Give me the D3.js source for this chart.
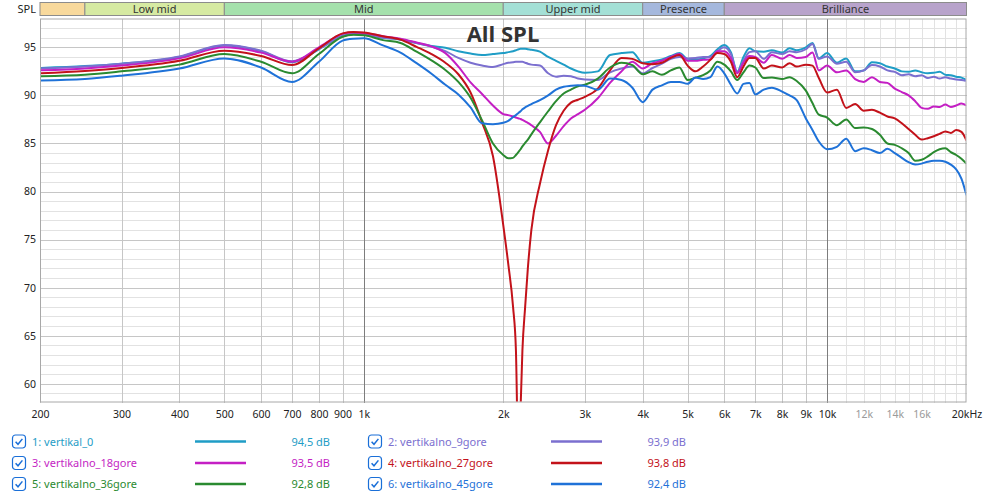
<!DOCTYPE html>
<html lang="en">
<head>
  <meta charset="UTF-8">
  <title>All SPL</title>
  <script src="https://d3js.org/d3.v7.min.js"></script>
  <style>
    body { margin: 0; background: #fff; }
    svg { display: block; font-family: "Noto Sans", sans-serif; }
  </style>
</head>
<body>
  <div id="chart"></div>

  <script>
    // frequency grid (Hz), shared by all six measurements
    const freqs = [
      200, 250, 300, 400, 500, 600, 700, 800, 900, 950,
      1000, 1100, 1200, 1300, 1400, 1500, 1600, 1700, 1800, 1900,
      2000, 2050, 2100, 2130, 2160, 2180, 2200, 2230, 2260, 2300,
      2400, 2500, 2600, 2700, 2800, 2900, 3000, 3200, 3400, 3600,
      3800, 4000, 4200, 4400, 4600, 4800, 5000, 5200, 5400, 5600,
      5800, 6000, 6200, 6400, 6600, 6800, 7000, 7300, 7600, 8000,
      8300, 8600, 9000, 9300, 9600, 10000, 10500, 11000, 11500, 12000,
      12500, 13000, 13500, 14000, 14500, 15000, 15500, 16000, 16500, 17000,
      17500, 18000, 18500, 19000, 19500, 20000
    ];

    const vertikal_0 = [
      92.85, 93.05, 93.3, 94.0, 95.2, 94.6, 93.45, 94.8, 96.2, 96.4,
      96.35, 96.0, 95.8, 95.45, 95.15, 94.95, 94.6, 94.35, 94.2, 94.3,
      94.4, 94.5, 94.6, 94.7, 94.8, 94.85, 94.85, 94.85, 94.8, 94.75,
      94.55, 94.0, 93.6, 93.2, 92.8, 92.5, 92.35, 92.5, 94.2, 94.4,
      94.5, 93.4, 93.55, 93.75, 94.1, 94.4, 93.8, 93.75, 93.85, 94.1,
      94.8, 95.25, 94.5, 92.45, 94.0, 94.9, 94.6, 94.55, 94.7, 94.45,
      94.9, 94.7, 95.0, 95.45, 93.85, 94.4, 93.4, 93.85, 92.5, 92.6,
      93.45, 93.35, 93.0, 92.8, 92.5, 92.45, 92.6, 92.4, 92.3, 92.35,
      92.45, 92.15, 92.1, 91.95, 91.85, 91.6
    ];

    const vertikalno_9gore = [
      92.8, 93.0, 93.3, 94.05, 95.25, 94.65, 93.55, 94.85, 96.15, 96.35,
      96.3, 96.0, 95.85, 95.45, 95.05, 94.6, 93.9, 93.4, 93.1, 92.95,
      93.25, 93.4, 93.45, 93.5, 93.5, 93.5, 93.5, 93.4, 93.3, 93.2,
      93.1, 92.3, 91.95, 92.05, 92.0, 91.75, 91.65, 91.6, 92.4, 92.8,
      93.0, 92.3, 92.85, 93.3, 93.8, 94.0, 93.85, 93.9, 94.0, 94.0,
      94.6, 95.0, 94.3, 92.45, 93.6, 94.5, 94.6, 93.8, 94.5, 94.3,
      94.6, 94.5, 94.8, 95.35, 93.8, 94.05, 93.3, 93.5, 92.4, 92.6,
      93.15, 93.0, 92.6, 92.45, 92.1, 92.2, 92.0, 92.1, 91.8, 91.95,
      91.75, 91.9, 91.75, 91.65, 91.6, 91.5
    ];

    const vertikalno_18gore = [
      92.6, 92.8, 93.1, 93.85, 95.0, 94.45, 93.5, 95.0, 96.4, 96.55,
      96.5, 96.15, 95.9, 95.5, 95.1, 94.4, 93.0, 91.35, 90.15, 88.95,
      88.05, 87.95, 87.8, 87.7, 87.6, 87.55, 87.45, 87.3, 87.15, 86.9,
      86.2, 85.0, 85.8, 86.8, 87.6, 88.05, 88.5, 89.7, 91.3, 92.5,
      93.5, 92.8, 93.35, 93.6, 94.0, 94.3, 93.6, 93.6, 93.7, 93.75,
      94.6, 94.6, 93.9, 92.3, 93.4, 94.1, 94.0, 93.4, 94.2, 93.8,
      94.2, 93.9, 94.0, 94.45, 92.6, 93.1, 92.4, 92.6, 91.7, 91.4,
      91.9, 91.4, 91.3, 90.7, 90.35, 90.0, 89.4, 88.7, 88.6, 88.85,
      88.8, 89.05, 88.8, 88.95, 89.15, 88.95
    ];

    const vertikalno_27gore = [
      92.3, 92.55, 92.85, 93.6, 94.65, 94.1, 93.15, 94.9, 96.45, 96.6,
      96.55, 96.15, 95.8, 95.05, 94.3, 93.4, 92.2, 90.3, 87.2, 83.7,
      76.5, 72.5, 68.0, 63.5, 50.0, 57.5, 63.5, 68.0, 72.0, 76.0,
      80.8, 84.3, 86.9, 88.4, 89.25, 89.55, 89.85, 90.7, 92.6, 93.9,
      93.8, 93.35, 93.25, 93.4, 93.9, 94.2, 93.1, 92.5, 93.0, 93.7,
      94.4, 94.3, 93.5, 91.9, 93.0, 93.9, 93.9, 92.8, 93.1, 92.9,
      93.35, 93.0, 93.2, 93.1, 91.8, 90.3, 90.6, 88.7, 89.1, 88.4,
      88.5, 88.2, 87.8, 87.6, 87.1, 86.5, 85.9, 85.4, 85.55, 85.75,
      86.0, 86.25, 86.1, 86.4, 86.2, 85.3
    ];

    const vertikalno_36gore = [
      92.0, 92.15, 92.5, 93.2, 94.3, 93.5, 92.3, 94.3, 96.1, 96.3,
      96.25, 95.75, 95.45, 94.55, 93.65, 92.65, 91.4, 89.75, 87.4, 85.0,
      83.8, 83.45, 83.5, 83.8, 84.15, 84.4, 84.7, 85.05, 85.4, 85.95,
      87.2, 88.35, 89.4, 90.2, 90.6, 90.95, 91.1, 91.75, 92.9, 93.4,
      93.15, 92.2, 92.5, 92.15, 92.6, 92.9, 91.6, 91.85, 92.1, 92.6,
      93.5, 93.2, 92.5, 91.6, 92.4, 93.1, 92.9, 91.8, 91.85, 91.7,
      91.9, 91.5, 90.5, 89.2, 88.0, 87.7, 86.9, 87.5, 86.6, 86.65,
      86.5, 85.9, 85.0, 84.85, 84.5, 84.0, 83.2, 83.3, 83.65, 84.1,
      84.4, 84.5, 84.1, 83.8, 83.4, 82.9
    ];

    const vertikalno_45gore = [
      91.55, 91.7, 92.05, 92.8, 93.85, 92.9, 91.4, 93.5, 95.7, 95.9,
      95.95, 95.2, 94.45, 93.35, 92.25, 91.1, 90.1, 88.75, 87.1, 87.0,
      87.15, 87.35, 87.75, 87.95, 88.2, 88.35, 88.55, 88.75, 88.9, 89.1,
      89.5, 90.0, 90.6, 90.9, 91.0, 91.05, 91.0, 90.6, 91.75, 91.6,
      90.8, 89.3, 90.6, 91.05, 91.4, 91.4, 91.2, 91.85, 91.7, 91.9,
      93.0, 92.3, 91.1, 90.2, 91.2, 91.3, 90.1, 90.6, 90.8, 90.4,
      90.0, 89.5, 87.6, 86.4, 85.2, 84.4, 84.65, 85.5, 84.2, 84.5,
      84.3, 84.0, 84.45, 84.0, 83.5, 83.05, 82.8, 82.9, 83.1, 83.2,
      83.2, 83.1, 82.8, 82.3, 81.35, 79.6
    ];

    const seriesNames = [
      "1: vertikal_0", "2: vertikalno_9gore", "3: vertikalno_18gore",
      "4: vertikalno_27gore", "5: vertikalno_36gore", "6: vertikalno_45gore"
    ];
    const seriesValues = [
      vertikal_0, vertikalno_9gore, vertikalno_18gore,
      vertikalno_27gore, vertikalno_36gore, vertikalno_45gore
    ];
    const seriesLevels = ["94,5 dB", "93,9 dB", "93,5 dB", "93,8 dB", "92,8 dB", "92,4 dB"];
    const seriesColors = ["#1f9dc6", "#7b6fcf", "#c41fc4", "#c3121a", "#2a8a30", "#1f72d8"];

    const bandNames = ["", "Low mid", "Mid", "Upper mid", "Presence", "Brilliance"];
    const bandEdges = [200, 250, 500, 2000, 4000, 6000, 20000];
    const bandColors = ["#f8d99c", "#d6eaa2", "#a5e1ac", "#a4e0d6", "#a5b8dd", "#b8a3cb"];

    const xTicks = [200, 300, 400, 500, 600, 700, 800, 900, 1000,
      2000, 3000, 4000, 5000, 6000, 7000, 8000, 9000, 10000, 12000, 14000, 16000, 20000];
    const xTickLabels = ["200", "300", "400", "500", "600", "700", "800", "900", "1k",
      "2k", "3k", "4k", "5k", "6k", "7k", "8k", "9k", "10k", "12k", "14k", "16k", "20kHz"];
    const xMinor = [11000, 12000, 13000, 14000, 15000, 16000, 17000, 18000, 19000];
    const yTicks = [60, 65, 70, 75, 80, 85, 90, 95];

    const width = 987;
    const height = 495;
    const plot = { left: 40, right: 966.5, top: 18.5, bottom: 402.5 };

    const svg = d3.select("#chart")
      .append("svg")
      .attr("width", width)
      .attr("height", height);

    const x = d3.scaleLog()
      .domain([200, 20000])
      .range([plot.left, plot.right]);

    const y = d3.scaleLinear()
      .domain([58.05, 98])
      .range([plot.bottom, plot.top]);

    // plot background
    svg.append("rect")
      .attr("x", plot.left).attr("y", plot.top)
      .attr("width", plot.right - plot.left)
      .attr("height", plot.bottom - plot.top)
      .attr("fill", "#fff");

    // horizontal grid: 1 dB light, 5 dB darker
    const grid = svg.append("g").attr("shape-rendering", "crispEdges");
    grid.selectAll(".hminor")
      .data(d3.range(59, 98).filter(v => v % 5 !== 0))
      .enter().append("line")
      .attr("x1", plot.left).attr("x2", plot.right)
      .attr("y1", d => Math.round(y(d)) + 0.5).attr("y2", d => Math.round(y(d)) + 0.5)
      .attr("stroke", "#e2e2e2");

    grid.selectAll(".vminor")
      .data(xMinor)
      .enter().append("line")
      .attr("x1", d => Math.round(x(d)) + 0.5).attr("x2", d => Math.round(x(d)) + 0.5)
      .attr("y1", plot.top).attr("y2", plot.bottom)
      .attr("stroke", "#e2e2e2");

    grid.selectAll(".hmajor")
      .data(yTicks)
      .enter().append("line")
      .attr("x1", plot.left).attr("x2", plot.right)
      .attr("y1", d => Math.round(y(d)) + 0.5).attr("y2", d => Math.round(y(d)) + 0.5)
      .attr("stroke", "#c6c6c6");

    grid.selectAll(".vmajor")
      .data(xTicks.filter(f => !xMinor.includes(f) && f !== 20000))
      .enter().append("line")
      .attr("x1", d => Math.round(x(d)) + 0.5).attr("x2", d => Math.round(x(d)) + 0.5)
      .attr("y1", plot.top).attr("y2", plot.bottom)
      .attr("stroke", d => (d === 1000 || d === 10000) ? "#7d7d7d" : "#c6c6c6");

    // plot frame
    svg.append("rect")
      .attr("x", plot.left + 0.5).attr("y", plot.top + 0.5)
      .attr("width", plot.right - plot.left - 1)
      .attr("height", plot.bottom - plot.top - 1)
      .attr("fill", "none")
      .attr("stroke", "#a8a8a8");

    // frequency band strip along the top
    const bands = bandNames.map((name, i) => ({
      name, from: bandEdges[i], to: bandEdges[i + 1], color: bandColors[i]
    }));
    const strip = svg.append("g");
    strip.selectAll("rect")
      .data(bands)
      .enter().append("rect")
      .attr("x", d => x(d.from))
      .attr("y", 2.5)
      .attr("width", d => x(d.to) - x(d.from))
      .attr("height", 13)
      .attr("fill", d => d.color)
      .attr("stroke", "#8c8c8c");
    strip.selectAll("text")
      .data(bands)
      .enter().append("text")
      .attr("x", d => (x(d.from) + x(d.to)) / 2)
      .attr("y", 13)
      .attr("text-anchor", "middle")
      .attr("font-size", 11)
      .attr("fill", "#333")
      .text(d => d.name);

    svg.append("text")
      .attr("x", 36).attr("y", 13)
      .attr("text-anchor", "end")
      .attr("font-size", 11)
      .attr("fill", "#222")
      .text("SPL");

    // axes (labels only)
    const yAxis = svg.append("g")
      .attr("transform", `translate(${plot.left},0)`)
      .call(d3.axisLeft(y).tickValues(yTicks).tickSize(0).tickPadding(4));
    yAxis.select(".domain").remove();
    yAxis.selectAll("text")
      .attr("font-family", "Noto Sans, sans-serif")
      .attr("font-size", 10.5)
      .attr("fill", "#222");

    const xAxis = svg.append("g")
      .attr("transform", `translate(0,${plot.bottom})`)
      .call(d3.axisBottom(x).tickValues(xTicks).tickSize(0).tickPadding(8)
        .tickFormat((d, i) => xTickLabels[i]));
    xAxis.select(".domain").remove();
    xAxis.selectAll("text")
      .attr("font-family", "Noto Sans, sans-serif")
      .attr("font-size", 10.5)
      .attr("fill", d => xMinor.includes(d) ? "#9a9a9a" : "#222");

    // curves
    svg.append("clipPath")
      .attr("id", "plotClip")
      .append("rect")
      .attr("x", plot.left + 1).attr("y", plot.top + 1)
      .attr("width", plot.right - plot.left - 2)
      .attr("height", plot.bottom - plot.top - 2);

    const line = d3.line()
      .x(d => x(d[0]))
      .y(d => y(d[1]))
      .curve(d3.curveMonotoneX);

    svg.append("g")
      .attr("clip-path", "url(#plotClip)")
      .selectAll("path")
      .data(seriesValues)
      .enter().append("path")
      .attr("d", vals => line(freqs.map((f, i) => [f, vals[i]])))
      .attr("fill", "none")
      .attr("stroke", (_, i) => seriesColors[i])
      .attr("stroke-width", 2)
      .attr("stroke-linejoin", "round");

    svg.append("text")
      .attr("x", 503).attr("y", 42)
      .attr("text-anchor", "middle")
      .attr("font-family", "Open Sans, sans-serif")
      .attr("font-weight", "bold")
      .attr("font-size", 22)
      .attr("fill", "#333")
      .text("All SPL");

    // legend: two columns, three rows
    const colX = [12, 368];
    const rowY = [441.5, 463, 484];
    const legend = svg.append("g")
      .selectAll("g")
      .data(seriesNames)
      .enter().append("g")
      .attr("transform", (_, i) => `translate(${colX[i % 2]},${rowY[Math.floor(i / 2)]})`);

    legend.append("rect")
      .attr("x", 0.5).attr("y", -6.5)
      .attr("width", 13).attr("height", 13)
      .attr("rx", 3)
      .attr("fill", "#fff")
      .attr("stroke", "#1a6fd8")
      .attr("stroke-width", 1.2);
    legend.append("path")
      .attr("d", "M3.6,0.2 L6,2.8 L10.4,-2.6")
      .attr("fill", "none")
      .attr("stroke", "#1a6fd8")
      .attr("stroke-width", 1.5);
    legend.append("text")
      .attr("x", 20).attr("y", 4)
      .attr("font-size", 11)
      .attr("fill", (_, i) => seriesColors[i])
      .text(d => d);
    legend.append("line")
      .attr("x1", 183).attr("x2", 234)
      .attr("y1", 0).attr("y2", 0)
      .attr("stroke", (_, i) => seriesColors[i])
      .attr("stroke-width", 2.5);
    legend.append("text")
      .attr("x", 318).attr("y", 4)
      .attr("text-anchor", "end")
      .attr("font-size", 11)
      .attr("fill", (_, i) => seriesColors[i])
      .text((_, i) => seriesLevels[i]);
  </script>
</body>
</html>
